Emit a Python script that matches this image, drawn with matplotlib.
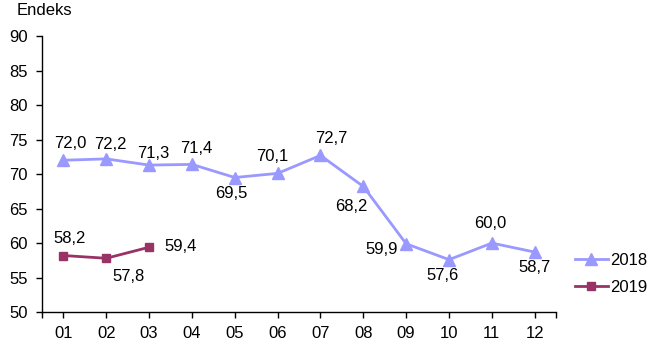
import matplotlib.pyplot as plt

plt.rcParams['font.family'] = ['Liberation Sans', 'DejaVu Sans']

aylar = ['01', '02', '03', '04', '05', '06', '07', '08', '09', '10', '11', '12']
endeks_2018 = [72.0, 72.2, 71.3, 71.4, 69.5, 70.1, 72.7, 68.2, 59.9, 57.6, 60.0, 58.7]
endeks_2019 = [58.2, 57.8, 59.4]

# etiket kaydirmalari (piksel)
ofs_2018 = [(7, 17), (4, 14), (4, 12), (4, 16), (-3, -16), (-5, 17),
            (11, 17), (-12, -20), (-25, -6), (-7, -16), (-2, 20), (0, -15)]
ofs_2019 = [(6, 17), (22, -18), (31, 1)]

fig = plt.figure(figsize=(6.5, 3.6), dpi=100)
ax = fig.add_axes([0.0646, 0.133, 0.791, 0.767])

x1 = list(range(len(endeks_2018)))
x2 = list(range(len(endeks_2019)))
ax.plot(x1, endeks_2018, color='#9999FF', lw=2, marker='^', ms=8, label='2018')
ax.plot(x2, endeks_2019, color='#993366', lw=2, marker='s', ms=5.5, label='2019')

for xi, v, (dx, dy) in zip(x1, endeks_2018, ofs_2018):
    ax.annotate(f'{v:.1f}'.replace('.', ','), (xi, v), xytext=(dx, dy),
                textcoords='offset pixels', ha='center', va='center', fontsize=12)
for xi, v, (dx, dy) in zip(x2, endeks_2019, ofs_2019):
    ax.annotate(f'{v:.1f}'.replace('.', ','), (xi, v), xytext=(dx, dy),
                textcoords='offset pixels', ha='center', va='center', fontsize=12)

ax.set_xlim(-0.5, 11.5)
ax.set_ylim(50, 90)
ax.set_yticks(range(50, 91, 5))
ax.set_xticks(x1)
ax.set_xticklabels(aylar)
ax.set_xticks([-0.5, 11.5], minor=True)
ax.tick_params(axis='both', which='both', direction='out', length=4.3, width=1,
               labelsize=12, color='black', pad=6)
for s in ['top', 'right']:
    ax.spines[s].set_visible(False)
for s in ['left', 'bottom']:
    ax.spines[s].set_linewidth(1)

fig.text(0.025, 0.97, 'Endeks', fontsize=12, ha='left', va='center')

fig.legend(loc='upper left', bbox_to_anchor=(0.874, 0.317), frameon=False,
           borderaxespad=0, fontsize=12, handlelength=2.0, handletextpad=0.1,
           labelspacing=0.74)

fig.savefig('out.png', dpi=100)
